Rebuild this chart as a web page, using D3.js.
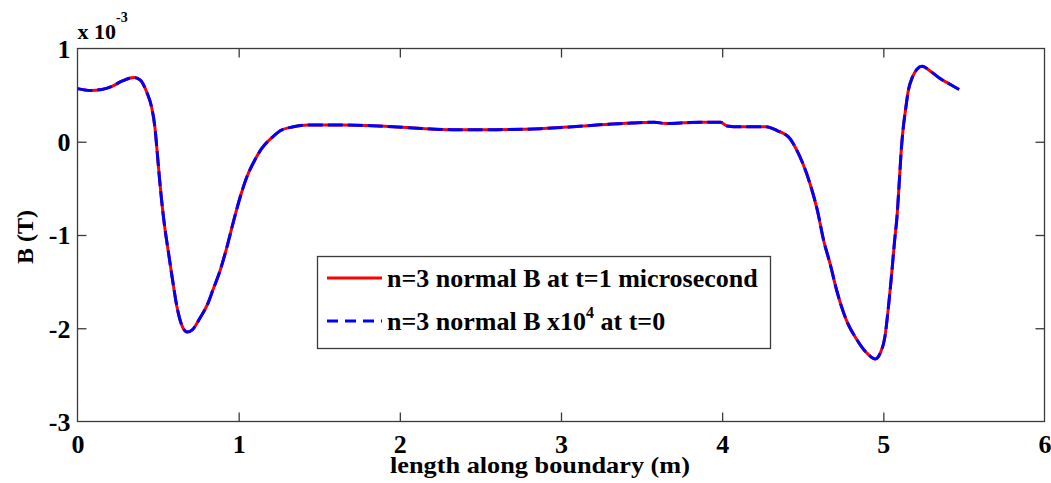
<!DOCTYPE html>
<html><head><meta charset="utf-8">
<script src="https://cdn.jsdelivr.net/npm/d3@7"></script>
<style>body{margin:0;background:#fff}svg{display:block}</style>
</head><body><svg id="c" width="1051" height="483"></svg>
<script>
// length along boundary (m)
const lengthM = [0.00,0.08,0.15,0.21,0.275,0.35,0.39,0.43,0.46,0.48,0.495,0.508,0.522,0.54,0.562,0.587,0.617,0.65,0.68,0.71,0.76,0.81,0.84,0.885,0.927,0.97,1.01,1.05,1.09,1.14,1.21,1.26,1.34,1.43,1.63,1.91,2.11,2.33,2.60,2.87,3.07,3.22,3.38,3.58,3.65,3.86,3.99,4.03,4.11,4.27,4.34,4.42,4.46,4.50,4.545,4.59,4.63,4.67,4.71,4.77,4.835,4.90,4.95,4.98,5.01,5.03,5.05,5.07,5.085,5.10,5.11,5.12,5.14,5.155,5.18,5.21,5.24,5.29,5.35,5.41,5.47];
// n=3 normal B at t=1 microsecond (units of 1e-3 T)
const bT1us = [0.57,0.55,0.56,0.59,0.65,0.69,0.66,0.53,0.37,0.16,-0.12,-0.38,-0.63,-0.90,-1.16,-1.45,-1.77,-1.98,-2.04,-2.02,-1.89,-1.73,-1.59,-1.38,-1.13,-0.84,-0.59,-0.38,-0.23,-0.08,0.05,0.12,0.16,0.18,0.18,0.165,0.145,0.13,0.13,0.14,0.16,0.18,0.195,0.21,0.195,0.21,0.21,0.17,0.16,0.16,0.12,0.035,-0.08,-0.23,-0.45,-0.73,-1.06,-1.31,-1.59,-1.91,-2.12,-2.27,-2.33,-2.27,-2.09,-1.80,-1.45,-1.06,-0.80,-0.40,-0.12,0.09,0.37,0.55,0.69,0.78,0.81,0.76,0.68,0.62,0.56];
// n=3 normal B x10^4 at t=0 (units of 1e-3 T)
const bT0x1e4 = [0.57,0.55,0.56,0.59,0.65,0.69,0.66,0.53,0.37,0.16,-0.12,-0.38,-0.63,-0.90,-1.16,-1.45,-1.77,-1.98,-2.04,-2.02,-1.89,-1.73,-1.59,-1.38,-1.13,-0.84,-0.59,-0.38,-0.23,-0.08,0.05,0.12,0.16,0.18,0.18,0.165,0.145,0.13,0.13,0.14,0.16,0.18,0.195,0.21,0.195,0.21,0.21,0.17,0.16,0.16,0.12,0.035,-0.08,-0.23,-0.45,-0.73,-1.06,-1.31,-1.59,-1.91,-2.12,-2.27,-2.33,-2.27,-2.09,-1.80,-1.45,-1.06,-0.80,-0.40,-0.12,0.09,0.37,0.55,0.69,0.78,0.81,0.76,0.68,0.62,0.56];
const xTicks = [0,1,2,3,4,5,6];
const yTicks = [-3,-2,-1,0,1];
const legendLabels = ["n=3 normal B at t=1 microsecond", "n=3 normal B x10", "4", " at t=0"];

const FONT = '"Liberation Serif", "Times New Roman", Times, "Nimbus Roman", Tinos, FreeSerif, "Noto Serif", "DejaVu Serif", serif';
const svg = d3.select("#c").style("font-family",FONT).style("font-weight","bold");
const L = 77.5, R = 1044.5, T = 48.5, B = 421.5;
const x = d3.scaleLinear().domain([0,6]).range([L,R]);
const y = d3.scaleLinear().domain([-3,1]).range([B,T]);
const axisColor = "#3a3a3a";
const tl = 9;

svg.append("rect").attr("x",L).attr("y",T).attr("width",R-L).attr("height",B-T)
  .attr("fill","none").attr("stroke",axisColor).attr("stroke-width",1.3);

const fs = 26;
const fmt = d => String(d);
const xb = svg.append("g").attr("transform",`translate(0,${B})`)
  .call(d3.axisBottom(x).tickValues(xTicks).tickSize(-tl).tickFormat(fmt));
const xt = svg.append("g").attr("transform",`translate(0,${T})`)
  .call(d3.axisTop(x).tickValues(xTicks).tickSize(-tl).tickFormat(""));
const yl = svg.append("g").attr("transform",`translate(${L},0)`)
  .call(d3.axisLeft(y).tickValues(yTicks).tickSize(-tl).tickFormat(fmt));
const yr = svg.append("g").attr("transform",`translate(${R},0)`)
  .call(d3.axisRight(y).tickValues(yTicks).tickSize(-tl).tickFormat(""));
[xb,xt,yl,yr].forEach(g=>{
  g.attr("font-family",null).attr("font-size",fs);
  g.select(".domain").remove();
  g.selectAll(".tick line").attr("stroke",axisColor).attr("stroke-width",1.3);
  g.selectAll(".tick text").attr("fill","#000");
});
xb.selectAll(".tick").filter(d=>d===0||d===6).select("line").remove();
xt.selectAll(".tick").filter(d=>d===0||d===6).select("line").remove();
yl.selectAll(".tick").filter(d=>d===-3||d===1).select("line").remove();
yr.selectAll(".tick").filter(d=>d===-3||d===1).select("line").remove();
xb.selectAll(".tick text").attr("dy",null).attr("y",31);
yl.selectAll(".tick text").attr("x",-7).attr("dy","0.34em");

const ex = svg.append("text").attr("x",L).attr("y",39).attr("font-size",22);
ex.append("tspan").text("x 10");
ex.append("tspan").attr("font-size",14).attr("dy",-17).text("-3");

svg.append("text").attr("x",(L+R)/2 - 21).attr("y",473).attr("text-anchor","middle")
  .attr("font-size",23).attr("textLength",300).attr("lengthAdjust","spacingAndGlyphs").text("length along boundary (m)");
svg.append("text").attr("transform","translate(33,237) rotate(-90)").attr("text-anchor","middle")
  .attr("font-size",24).text("B (T)");

const line = (vals)=> d3.line().x((d,i)=>x(lengthM[i])).y(d=>y(d)).curve(d3.curveMonotoneX)(vals);
svg.append("path").attr("d",line(bT1us)).attr("fill","none").attr("stroke","#ff0000").attr("stroke-width",3);
svg.append("path").attr("d",line(bT0x1e4)).attr("fill","none").attr("stroke","#0000ff").attr("stroke-width",3).attr("stroke-dasharray","15,5");

const lg = svg.append("g");
lg.append("rect").attr("x",317.5).attr("y",256.5).attr("width",453).attr("height",92)
  .attr("fill","#fff").attr("stroke",axisColor).attr("stroke-width",1.3);
lg.append("line").attr("x1",327).attr("x2",382).attr("y1",278).attr("y2",278).attr("stroke","#ff0000").attr("stroke-width",3);
lg.append("line").attr("x1",327).attr("x2",382).attr("y1",321).attr("y2",321).attr("stroke","#0000ff").attr("stroke-width",3).attr("stroke-dasharray","11,7");
lg.append("text").attr("x",387).attr("y",287).attr("font-size",26).text(legendLabels[0]);
const t2 = lg.append("text").attr("x",387).attr("y",330).attr("font-size",26);
t2.append("tspan").text(legendLabels[1]);
t2.append("tspan").attr("font-size",16).attr("dy",-12).text(legendLabels[2]);
t2.append("tspan").attr("dy",12).text(legendLabels[3]);
</script></body></html>
